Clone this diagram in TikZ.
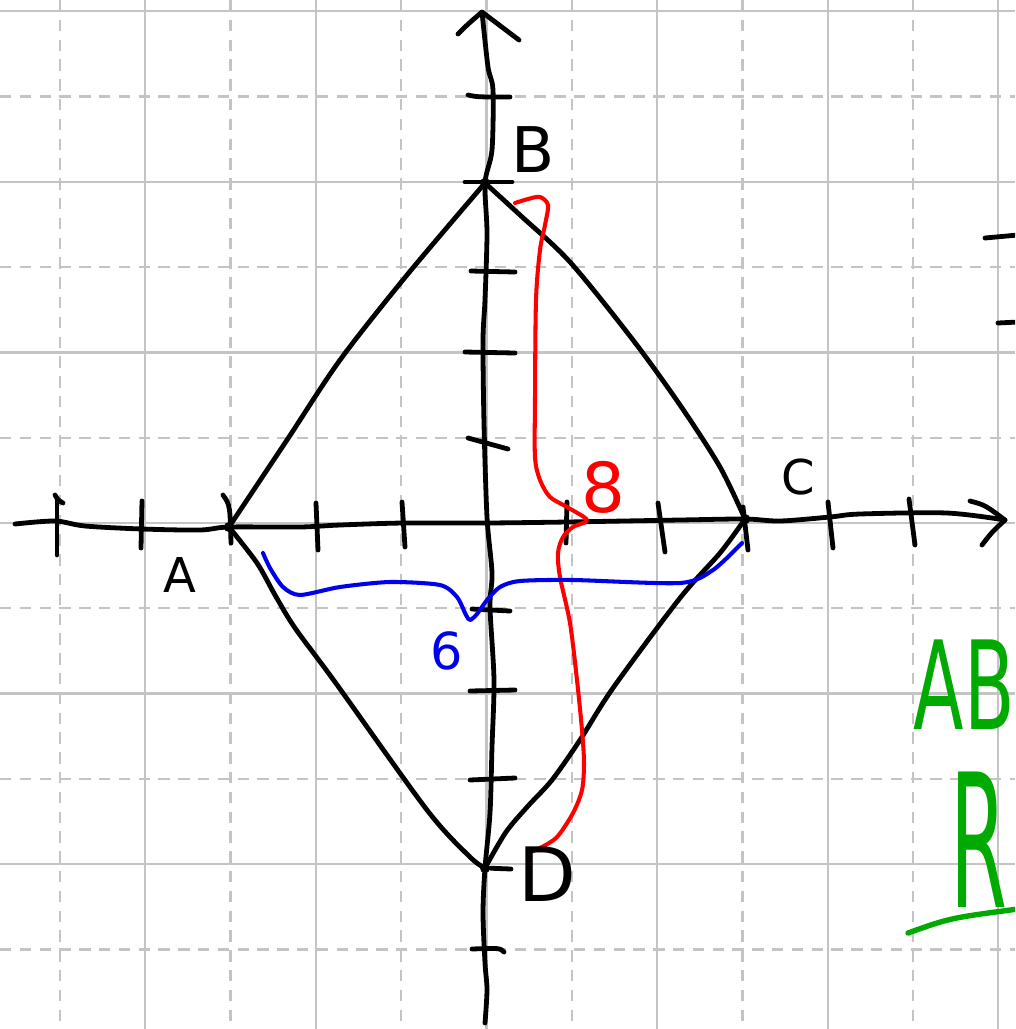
\documentclass[tikz,border=0pt]{standalone}
\usepackage{graphicx}
\usepackage{fontspec}
\setsansfont{DejaVu Sans}
\definecolor{gridgray}{RGB}{196,196,196}
\definecolor{inkred}{RGB}{255,0,0}
\definecolor{inkblue}{RGB}{0,0,235}
\definecolor{inkgreen}{RGB}{0,170,0}
\tikzset{
  gridsolid/.style={draw=gridgray, line width=0.75pt},
  griddash/.style={draw=gridgray, line width=0.75pt, dash pattern=on 3.8pt off 2.8pt},
  ink/.style={line width=1.6pt, line cap=round, line join=round},
  redink/.style={draw=inkred, line width=1.35pt, line cap=round, line join=round},
  blueink/.style={draw=inkblue, line width=1.35pt, line cap=round, line join=round},
  greenink/.style={draw=inkgreen, line width=1.8pt, line cap=round, line join=round},
  pt/.style={circle, fill=black, inner sep=0pt, minimum size=3.4pt},
  lbl/.style={inner sep=0pt, font=\sffamily},
}
\begin{document}
\begin{tikzpicture}[x=0.011723cm, y=-0.011723cm]
\useasboundingbox (0,0) rectangle (1015,1029);
\fill[white] (0,0) rectangle (1015,1029);
\begin{scope}
\clip (0,0) rectangle (1015,1029);
% grid
\foreach \k in {-4,-2,0,2,4,6} \draw[gridsolid] ({486.5+85.3*\k},0) -- ({486.5+85.3*\k},1029);
\foreach \k in {-5,-3,-1,1,3,5} \draw[griddash] ({486.5+85.3*\k},0) -- ({486.5+85.3*\k},1029);
\foreach \k in {-6,-4,-2,0,2,4} \draw[gridsolid] (0,{523+85.3*\k}) -- (1015,{523+85.3*\k});
\foreach \k in {-5,-3,-1,1,3,5} \draw[griddash] (0,{523+85.3*\k}) -- (1015,{523+85.3*\k});

% points
\node[pt] (A) at (229,527) {};
\node[pt] (B) at (485,183) {};
\node[pt] (C) at (745,519) {};
\node[pt] (D) at (485,868) {};

% axes
\coordinate (xs) at (15,524);
\coordinate (xe) at (1005,520);
\coordinate (ys) at (485,1023);
\coordinate (ye) at (482,12);
\draw[ink] plot[smooth, tension=0.5] coordinates {(xs) (55,521) (85,526) (142,529) (200,530) (A) (300,527) (340,525) (403,523) (486,523) (567,522) (680,520) (C) (780,521) (830,517) (860,514) (947,513) (xe)};
\draw[ink] (970,501) .. controls (985,505) .. (xe) .. controls (992,532) .. (982,545);
\draw[ink] plot[smooth, tension=0.5] coordinates {(ys) (487,990) (485,963) (483,913) (D) (490,813) (492,747) (494,680) (490,607) (492,573) (487,517) (484,423) (483,340) (485,300) (487,233) (B) (492,150) (493,90) (488,67) (ye)};
\draw[ink] (458,34) .. controls (468,24) .. (ye) .. controls (500,26) .. (519,40);

% x ticks
\draw[ink] (55,495) .. controls (58,500) .. (63,503);
\draw[ink] (57,500) -- (57,555);
\draw[ink] (142,501) -- (141,548);
\draw[ink] (223,495) .. controls (230,505) .. (231,543);
\draw[ink] (316,503) -- (318,550);
\draw[ink] (402,502) -- (405,547);
\draw[ink] (567,502) -- (566,543);
\draw[ink] (658,503) -- (665,552);
\draw[ink] (743,507) -- (748,550);
\draw[ink] (828,502) -- (833,548);
\draw[ink] (909,499) -- (915,545);
% y ticks
\draw[ink] (468,95) .. controls (477,97) .. (510,97);
\draw[ink] (465,182) -- (512,182);
\draw[ink] (471,271) -- (515,272);
\draw[ink] (465,352) -- (515,353);
\draw[ink] (468,438) -- (508,449);
\draw[ink] (472,609) -- (510,611);
\draw[ink] (470,691) -- (515,690);
\draw[ink] (470,780) -- (515,778);
\draw[ink] (D) -- (511,869);
\draw[ink] (472,949) .. controls (500,948) .. (504,952);

% rhombus
\draw[ink] plot[smooth, tension=0.5] coordinates {(A) (287,440) (340,360) (407,275) (B)};
\draw[ink] plot[smooth, tension=0.5] coordinates {(B) (520,215) (570,262) (633,340) (680,405) (720,467) (C)};
\draw[ink] plot[smooth, tension=0.5] coordinates {(A) (257,563) (275,595) (295,628) (335,682) (427,810) (470,857) (D)};
\draw[ink] plot[smooth, tension=0.5] coordinates {(D) (506,832) (528,806) (552,780) (580,740) (613,688) (680,598) (720,553) (C)};

% red brace BD
\coordinate (r0) at (515,203);
\coordinate (r1) at (528,853);
\draw[redink] plot[smooth, tension=0.5] coordinates {(r0) (528,199) (540,197) (548,205) (545,225) (540,250) (536,300) (535,400) (535,457) (540,480) (550,497) (567,507) (587,520) (573,527) (563,537) (558,553) (560,577) (570,623) (577,680) (582,730) (584,763) (582,790) (573,813) (557,837) (540,848) (r1)};
% blue brace AC
\coordinate (b0) at (263,553);
\coordinate (b1) at (742,543);
\draw[blueink] plot[smooth, tension=0.45] coordinates {(b0) (270,568) (283,587) (300,595) (340,587) (390,582) (440,585) (457,597) (466,615) (470,620) (477,614) (487,600) (500,587) (520,581) (573,580) (680,583) (713,570) (b1)};

% labels
\node[lbl, font=\sffamily\fontsize{16}{19}\selectfont] (lA) at (180,575) {A};
\node[lbl, font=\sffamily\fontsize{21}{25}\selectfont] (lB) at (533,150) {B};
\node[lbl, font=\sffamily\fontsize{16}{19}\selectfont] (lC) at (798,477) {C};
\node[lbl, font=\sffamily\fontsize{25}{30}\selectfont] (lD) at (547,874) {D};
\node[lbl, text=inkred, font=\sffamily\fontsize{23}{28}\selectfont] (l8) at (603,487) {8};
\node[lbl, text=inkblue, font=\sffamily\fontsize{17}{21}\selectfont] (l6) at (447,651) {6};

% right edge
\node[lbl, text=inkgreen, anchor=west, font=\sffamily\fontsize{41}{48}\selectfont] (lAB) at (913,685) {\scalebox{0.6}[1]{AB}};
\node[lbl, text=inkgreen, anchor=west, font=\sffamily\fontsize{62}{72}\selectfont] (lR) at (950,840) {\scalebox{0.44}[1]{R}};
\coordinate (u0) at (908,933);
\coordinate (u1) at (1018,909);
\draw[greenink] (u0) .. controls (950,918) .. (u1);
\coordinate (m0) at (985,238);
\coordinate (m1) at (1018,235);
\coordinate (m2) at (998,323);
\coordinate (m3) at (1018,322);
\draw[ink] (m0) -- (m1);
\draw[ink] (m2) -- (m3);
\end{scope}
\end{tikzpicture}
\end{document}
